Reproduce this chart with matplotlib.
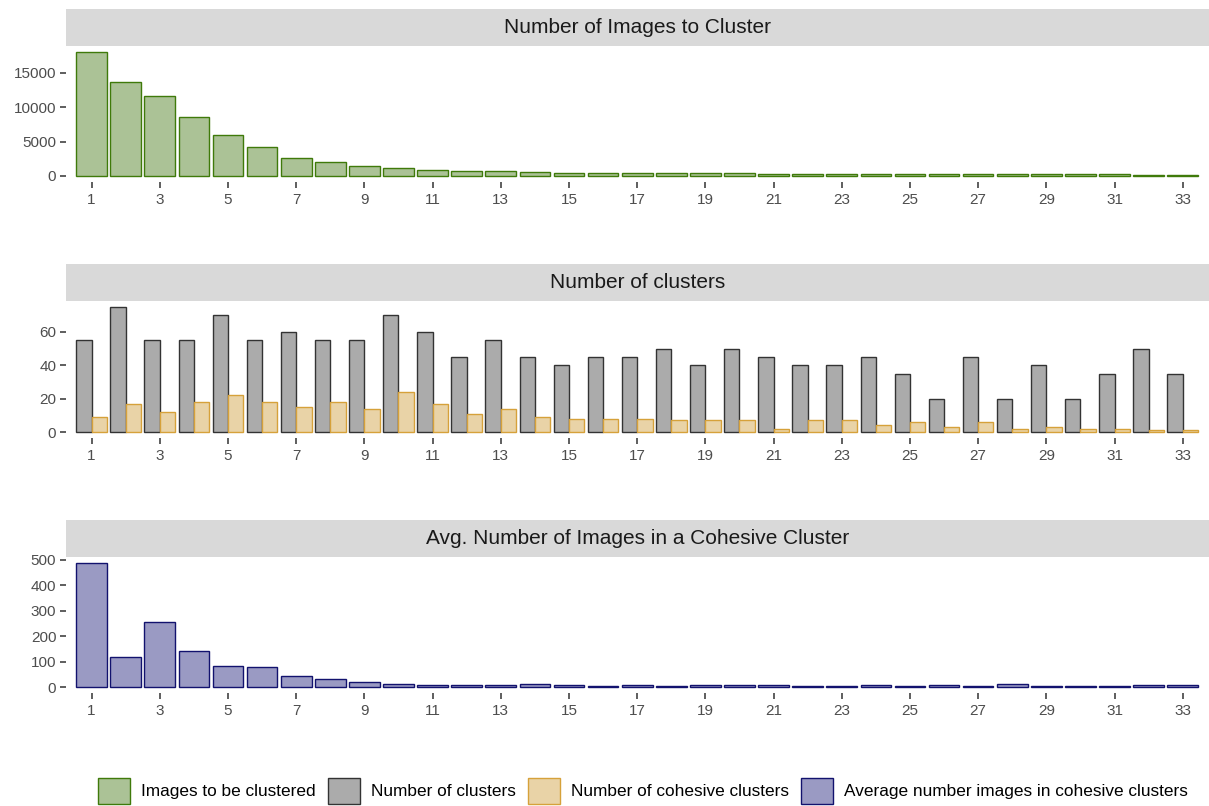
import numpy as np
import matplotlib
matplotlib.use('Agg')
import matplotlib.pyplot as plt
from matplotlib.patches import Patch

plt.rcParams['font.family'] = ['Liberation Sans', 'DejaVu Sans']

# iteration index on the x axis
steps = list(range(1, 34))

images_to_cluster = [18100, 13650, 11600, 8550, 5950, 4150, 2650, 2050, 1500, 1200,
                     850, 750, 650, 500, 450, 430, 420, 400, 370, 340,
                     330, 320, 310, 290, 270, 250, 240, 220, 210, 200,
                     190, 180, 170]

num_clusters = [55, 75, 55, 55, 70, 55, 60, 55, 55, 70,
                60, 45, 55, 45, 40, 45, 45, 50, 40, 50,
                45, 40, 40, 45, 35, 20, 45, 20, 40, 20,
                35, 50, 35]

cohesive_clusters = [9, 17, 12, 18, 22, 18, 15, 18, 14, 24,
                     17, 11, 14, 9, 8, 8, 8, 7, 7, 7,
                     2, 7, 7, 4, 6, 3, 6, 2, 3, 2,
                     2, 1, 1]

avg_images_cohesive = [488, 118, 255, 143, 84, 80, 42, 31, 20, 14,
                       8, 8, 8, 11, 8, 3, 8, 4, 8, 8,
                       8, 4, 6, 8, 4, 9, 4, 12, 4, 4,
                       3, 8, 10]

panel_titles = ['Number of Images to Cluster',
                'Number of clusters',
                'Avg. Number of Images in a Cohesive Cluster']

legend_labels = ['Images to be clustered', 'Number of clusters',
                 'Number of cohesive clusters',
                 'Average number images in cohesive clusters']

GREEN = ('#ABC296', '#3F7A0A')
GREY = ('#ABABAB', '#333333')
GOLD = ('#E9D3A7', '#D6A13A')
NAVY = ('#9A9AC3', '#12126E')

W, H = 1209, 806


def box(left, top, right, bottom):
    return [left / W, 1 - bottom / H, (right - left) / W, (bottom - top) / H]


def strip(fig, top, bottom, title):
    sax = fig.add_axes(box(66, top, W, bottom))
    sax.set_facecolor('#D9D9D9')
    sax.set_xticks([])
    sax.set_yticks([])
    for s in sax.spines.values():
        s.set_visible(False)
    sax.text(0.5, 0.5, title, ha='center', va='center', fontsize=15,
             color='#1A1A1A', transform=sax.transAxes)


def style_panel(ax, ymax, yticks):
    ax.set_xlim(0.25, 33.77)
    ax.set_ylim(-0.05 * ymax, 1.05 * ymax)
    ax.set_xticks(steps[::2])
    ax.set_yticks(yticks)
    for s in ax.spines.values():
        s.set_visible(False)
    ax.tick_params(axis='both', length=4, width=1.1, color='#333333',
                   labelcolor='#4D4D4D', labelsize=11)
    ax.tick_params(axis='x', pad=4)
    ax.tick_params(axis='y', pad=3)


fig = plt.figure(figsize=(W / 100, H / 100), dpi=100)

# panel 1: images still to cluster
strip(fig, 9, 45.5, panel_titles[0])
ax1 = fig.add_axes(box(66, 45.5, W, 182))
ax1.bar(steps, images_to_cluster, width=0.9, color=GREEN[0], edgecolor=GREEN[1], linewidth=1)
style_panel(ax1, max(images_to_cluster), [0, 5000, 10000, 15000])

# panel 2: clusters vs cohesive clusters, dodged
strip(fig, 264, 300.5, panel_titles[1])
ax2 = fig.add_axes(box(66, 300.5, W, 438.3))
x = np.array(steps)
ax2.bar(x - 0.225, num_clusters, width=0.45, color=GREY[0], edgecolor=GREY[1], linewidth=1)
ax2.bar(x + 0.225, cohesive_clusters, width=0.45, color=GOLD[0], edgecolor=GOLD[1], linewidth=1)
style_panel(ax2, max(num_clusters), [0, 20, 40, 60])

# panel 3: average size of cohesive clusters
strip(fig, 520, 556.5, panel_titles[2])
ax3 = fig.add_axes(box(66, 556.5, W, 693.3))
ax3.bar(steps, avg_images_cohesive, width=0.9, color=NAVY[0], edgecolor=NAVY[1], linewidth=1)
style_panel(ax3, max(avg_images_cohesive), [0, 100, 200, 300, 400, 500])

handles = [Patch(facecolor=c[0], edgecolor=c[1], linewidth=1)
           for c in (GREEN, GREY, GOLD, NAVY)]
fig.legend(handles, legend_labels, loc='center', bbox_to_anchor=(643 / W, 1 - 791 / H),
           ncol=4, frameon=False, fontsize=12.4, handlelength=1.85, handleheight=2.0,
           handletextpad=0.65, columnspacing=0.7, borderpad=0)

fig.savefig('out.png', dpi=100)
